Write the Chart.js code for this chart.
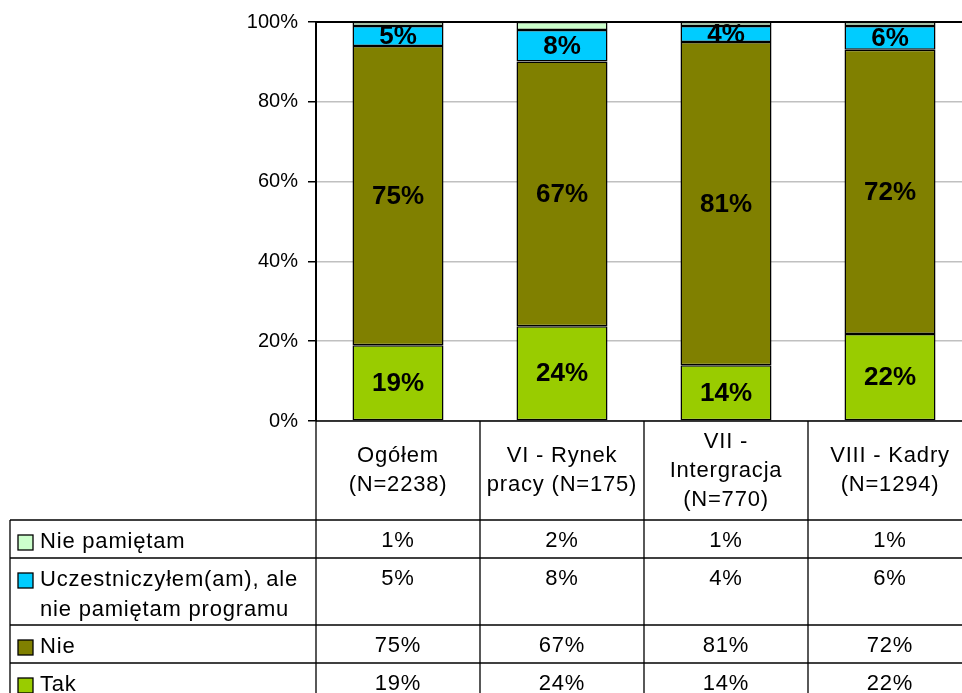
<!DOCTYPE html>
<html lang="pl">
<head>
<meta charset="utf-8">
<title>Udział w programie</title>
<script src="https://cdn.jsdelivr.net/npm/chart.js@4/dist/chart.umd.min.js"></script>
<style>
    html, body { margin: 0; padding: 0; background: #fff; overflow: hidden; }
    #wrap { position: relative; width: 972px; height: 693px; }
</style>
</head>
<body>
<div id="wrap"><canvas id="chart"></canvas></div>
<script>
// Chart data
const categories = [
    ['Ogółem', '(N=2238)'],
    ['VI - Rynek', 'pracy (N=175)'],
    ['VII -', 'Intergracja', '(N=770)'],
    ['VIII - Kadry', '(N=1294)']
];
const seriesNames = ['Tak', 'Nie', ['Uczestniczyłem(am), ale', 'nie pamiętam programu'], 'Nie pamiętam'];
const takValues = [19, 24, 14, 22];
const nieValues = [75, 67, 81, 72];
const uczValues = [5, 8, 4, 6];
const niePamValues = [1, 2, 1, 1];
const yTicks = [0, 20, 40, 60, 80, 100];

const FONT = '"Liberation Sans", Arial, sans-serif';
const colors = ['#99CC00', '#808000', '#00CCFF', '#CCFFCC'];

const datasetValues = [takValues, nieValues, uczValues, niePamValues];

// 100% stacked: each column is scaled to its own total
const columnTotals = categories.map((c, j) => datasetValues.reduce((s, vals) => s + vals[j], 0));
const shareOf = vals => vals.map((v, j) => v / columnTotals[j] * 100);

// Labels inside bar segments (skip the tiny top segment)
const segmentLabels = {
    id: 'segmentLabels',
    afterDatasetsDraw(chart) {
        const ctx = chart.ctx;
        ctx.save();
        ctx.font = 'bold 26px ' + FONT;
        ctx.fillStyle = '#000';
        ctx.textAlign = 'center';
        ctx.textBaseline = 'middle';
        chart.data.datasets.forEach((ds, i) => {
            if (i === 3) return;
            chart.getDatasetMeta(i).data.forEach((bar, j) => {
                ctx.fillText(datasetValues[i][j] + '%', bar.x, (bar.y + bar.base) / 2 + 1);
            });
        });
        ctx.restore();
    }
};

// Data table under the plot
const dataTable = {
    id: 'dataTable',
    afterDraw(chart) {
        const ctx = chart.ctx;
        const area = chart.chartArea;
        const xs = chart.scales.x;
        const colW = area.width / categories.length;
        const headerTop = area.bottom;
        const headerBottom = headerTop + 99;
        const lineH = 29;
        const legendLeft = 10;

        // rows: top to bottom, reversed stacking order
        const rows = chart.data.datasets.map((ds, i) => ({
            name: Array.isArray(seriesNames[i]) ? seriesNames[i] : [seriesNames[i]],
            color: ds.backgroundColor,
            data: datasetValues[i]
        })).reverse();

        ctx.save();
        ctx.strokeStyle = '#000';
        ctx.fillStyle = '#000';
        ctx.font = '22px ' + FONT;
        if ('letterSpacing' in ctx) ctx.letterSpacing = '0.8px';
        ctx.textBaseline = 'middle';

        // frame line on top of plot
        ctx.beginPath();
        ctx.lineWidth = 2;
        ctx.moveTo(area.left, area.top);
        ctx.lineTo(area.right, area.top);
        ctx.stroke();
        ctx.lineWidth = 1.3;

        // header row
        ctx.beginPath();
        ctx.moveTo(area.left, headerTop);
        ctx.lineTo(area.right, headerTop);
        ctx.stroke();
        ctx.textAlign = 'center';
        categories.forEach((lines, j) => {
            const cx = xs.getPixelForValue(j);
            const mid = (headerTop + headerBottom) / 2;
            lines.forEach((t, k) => {
                ctx.fillText(t, cx, mid - (lines.length - 1) * lineH / 2 + k * lineH);
            });
        });

        // body rows
        let y = headerBottom;
        const bottom = chart.height + 20;
        rows.forEach(row => {
            const h = 38 + (row.name.length - 1) * lineH;
            ctx.beginPath();
            ctx.moveTo(legendLeft, y);
            ctx.lineTo(area.right, y);
            ctx.stroke();

            // legend marker
            ctx.fillStyle = row.color;
            ctx.fillRect(18, y + 15, 15, 15);
            ctx.strokeRect(18, y + 15, 15, 15);
            ctx.fillStyle = '#000';
            ctx.textAlign = 'left';
            row.name.forEach((t, k) => ctx.fillText(t, 40, y + 22 + k * 30));

            ctx.textAlign = 'center';
            row.data.forEach((v, j) => {
                ctx.fillText(v + '%', xs.getPixelForValue(j), y + 21);
            });
            y += h;
        });

        // vertical lines
        ctx.beginPath();
        ctx.moveTo(legendLeft, headerBottom);
        ctx.lineTo(legendLeft, bottom);
        for (let j = 0; j < categories.length; j++) {
            const x = xs.getPixelForValue(j) - colW / 2;
            ctx.moveTo(x, j === 0 ? area.top : headerTop);
            ctx.lineTo(x, bottom);
        }
        ctx.stroke();
        ctx.restore();
    }
};

new Chart(document.getElementById('chart'), {
    type: 'bar',
    data: {
        labels: categories,
        datasets: datasetValues.map((vals, i) => ({
            label: Array.isArray(seriesNames[i]) ? seriesNames[i].join(' ') : seriesNames[i],
            data: shareOf(vals),
            backgroundColor: colors[i],
            borderColor: '#000',
            borderWidth: 1.5,
            borderSkipped: false,
            categoryPercentage: 1,
            barPercentage: 0.555
        }))
    },
    options: {
        responsive: true,
        maintainAspectRatio: false,
        animation: false,
        events: [],
        layout: {
            padding: { top: 20, bottom: 272, left: 0, right: 0 }
        },
        plugins: {
            legend: { display: false },
            tooltip: { enabled: false }
        },
        scales: {
            x: {
                display: false,
                stacked: true,
                offset: true
            },
            y: {
                stacked: true,
                min: 0,
                max: 100,
                afterFit: function(scale) {
                    scale.width = 316;
                },
                afterBuildTicks: function(scale) {
                    scale.ticks = yTicks.map(v => ({ value: v }));
                },
                border: { display: true, color: '#000', width: 2 },
                grid: {
                    color: ctx => (ctx.tick && ctx.tick.value === 100) ? 'rgba(0,0,0,0)' : '#c0c0c0',
                    lineWidth: 1.5,
                    tickColor: '#000',
                    tickLength: 8
                },
                ticks: {
                    color: '#000',
                    padding: 10,
                    font: { family: FONT, size: 20 },
                    callback: function(value) {
                        return value + '%';
                    }
                }
            }
        }
    },
    plugins: [segmentLabels, dataTable]
});
</script>
</body>
</html>
